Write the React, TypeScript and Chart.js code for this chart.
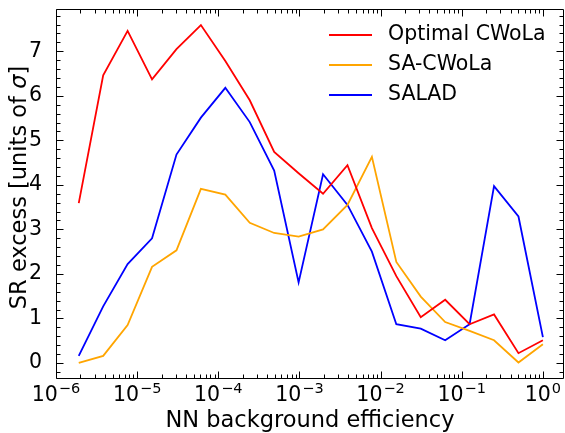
import React, { useEffect, useRef } from 'react';
import { Chart, registerables } from 'chart.js';

Chart.register(...registerables);

// NN background efficiency (x values)
const efficiencies = [
  1.9073e-6, 3.8147e-6, 7.6294e-6, 1.5259e-5, 3.0518e-5, 6.1035e-5, 1.2207e-4,
  2.4414e-4, 4.8828e-4, 9.7656e-4, 1.9531e-3, 3.9063e-3, 7.8125e-3, 1.5625e-2,
  3.125e-2, 6.25e-2, 0.125, 0.25, 0.5, 1,
];
const optimalCwola = [
  3.59, 6.46, 7.46, 6.37, 7.05, 7.59, 6.78, 5.9, 4.74, 4.26,
  3.8, 4.44, 3.03, 1.95, 1.03, 1.42, 0.87, 1.09, 0.22, 0.51,
];
const saCwola = [
  0.0, 0.16, 0.85, 2.16, 2.53, 3.91, 3.78, 3.15, 2.92, 2.84,
  3.0, 3.55, 4.63, 2.27, 1.49, 0.92, 0.72, 0.51, 0.01, 0.42,
];
const salad = [
  0.16, 1.27, 2.22, 2.8, 4.68, 5.51, 6.18, 5.41, 4.32, 1.81,
  4.24, 3.55, 2.5, 0.87, 0.77, 0.51, 0.87, 3.97, 3.29, 0.58,
];
const seriesLabels = ['Optimal CWoLa', 'SA-CWoLa', 'SALAD'];
const seriesColors = ['#ff0000', '#ffa500', '#0000ff'];
const xMajorTicks = [1e-6, 1e-5, 1e-4, 1e-3, 1e-2, 1e-1, 1];
const xTickBase = '10';
const xTickExponents = ['−6', '−5', '−4', '−3', '−2', '−1', '0'];
const yMajorTicks = [0, 1, 2, 3, 4, 5, 6, 7];
const xAxisTitle = 'NN background efficiency';
const yAxisTitleParts = ['SR excess [units of ', 'σ', ']'];

const FONT = 'DejaVu Sans';

const framePlugin = {
  id: 'frame',
  afterDraw(chart: any) {
    const { ctx, chartArea, scales } = chart;
    const { left, right, top, bottom } = chartArea;
    const xs = scales.x;
    const ys = scales.y;
    ctx.save();
    ctx.strokeStyle = '#000';
    ctx.lineWidth = 1;
    const L = Math.round(left) + 0.5;
    const R = Math.round(right) - 0.5;
    const T = Math.round(top) + 0.5;
    const B = Math.round(bottom) - 0.5;
    ctx.beginPath();
    ctx.rect(L, T, R - L, B - T);
    ctx.stroke();

    const majorLen = 7;
    const minorLen = 4;
    ctx.beginPath();
    const xMin = xs.min;
    const xMax = xs.max;
    for (let e = -7; e <= 1; e++) {
      for (let m = 1; m <= 9; m++) {
        const v = m * Math.pow(10, e);
        if (v < xMin * 0.9999 || v > xMax) continue;
        const px = Math.round(xs.getPixelForValue(v)) + 0.5;
        const len = m === 1 ? majorLen : minorLen;
        ctx.moveTo(px, B);
        ctx.lineTo(px, B - len);
        ctx.moveTo(px, T);
        ctx.lineTo(px, T + len);
      }
    }
    for (let i = -5; i <= 45; i++) {
      const v = i * 0.2;
      if (v < ys.min || v > ys.max) continue;
      const py = Math.round(ys.getPixelForValue(v)) + 0.5;
      const len = i % 5 === 0 ? majorLen : minorLen;
      ctx.moveTo(L, py);
      ctx.lineTo(L + len, py);
      ctx.moveTo(R, py);
      ctx.lineTo(R - len, py);
    }
    ctx.stroke();

    // x tick labels: 10 with superscript exponent
    ctx.fillStyle = '#000';
    ctx.textBaseline = 'alphabetic';
    ctx.textAlign = 'left';
    const mainFont = `20.5px "${FONT}"`;
    const expFont = `14.5px "${FONT}"`;
    xMajorTicks.forEach((v, i) => {
      const px = xs.getPixelForValue(v);
      ctx.font = mainFont;
      const wMain = ctx.measureText(xTickBase).width;
      ctx.font = expFont;
      const wExp = ctx.measureText(xTickExponents[i]).width;
      const x0 = px - (wMain + wExp + 1) / 2;
      const baseY = bottom + 22;
      ctx.font = mainFont;
      ctx.fillText(xTickBase, x0, baseY);
      ctx.font = expFont;
      ctx.fillText(xTickExponents[i], x0 + wMain + 1, baseY - 8);
    });

    // y axis title with italic sigma
    ctx.save();
    ctx.translate(20.5, 187.5);
    ctx.rotate(-Math.PI / 2);
    ctx.textBaseline = 'middle';
    const titleSize = 22.5;
    const fonts = [
      `${titleSize}px "${FONT}"`,
      `italic ${titleSize}px "${FONT}"`,
      `${titleSize}px "${FONT}"`,
    ];
    const widths = yAxisTitleParts.map((p, i) => {
      ctx.font = fonts[i];
      return ctx.measureText(p).width;
    });
    const total = widths.reduce((a, b) => a + b, 0);
    let cx = -total / 2;
    yAxisTitleParts.forEach((p, i) => {
      ctx.font = fonts[i];
      ctx.fillText(p, cx, 0);
      cx += widths[i];
    });
    ctx.restore();

    // legend
    const ds = chart.data.datasets;
    ctx.font = `20.5px "${FONT}"`;
    ctx.textBaseline = 'middle';
    ctx.textAlign = 'left';
    for (let i = 0; i < ds.length; i++) {
      const y = top + 26 + i * 30;
      ctx.strokeStyle = ds[i].borderColor;
      ctx.lineWidth = 1.8;
      ctx.beginPath();
      ctx.moveTo(left + 273, y);
      ctx.lineTo(left + 316, y);
      ctx.stroke();
      ctx.fillStyle = '#000';
      ctx.fillText(ds[i].label, left + 332, y);
    }
    ctx.restore();
  },
};

export default function App() {
  const ref = useRef<HTMLCanvasElement>(null);
  useEffect(() => {
    document.body.style.margin = '0';
    const canvas = ref.current;
    if (!canvas) return;
    Chart.defaults.font.family = FONT;
    const seriesValues = [optimalCwola, saCwola, salad];
    const chart = new Chart(canvas, {
      type: 'line',
      data: {
        datasets: seriesValues.map((vals, i) => ({
          label: seriesLabels[i],
          data: vals.map((v, j) => ({ x: efficiencies[j], y: v })),
          borderColor: seriesColors[i],
          backgroundColor: seriesColors[i],
          borderWidth: 1.8,
          pointRadius: 0,
          tension: 0,
          fill: false,
        })),
      },
      options: {
        responsive: false,
        animation: false,
        devicePixelRatio: 1,
        layout: { padding: { top: 9, right: 1, left: 0, bottom: 0 } },
        plugins: {
          legend: { display: false },
          tooltip: { enabled: false },
        },
        scales: {
          x: {
            type: 'logarithmic',
            min: 1e-6,
            max: 1.82,
            grid: { display: false },
            border: { display: false },
            afterBuildTicks: (scale: any) => {
              scale.ticks = xMajorTicks.map((v) => ({ value: v, major: true }));
            },
            afterFit: (scale: any) => {
              scale.height = 54;
              scale.paddingLeft = 0;
              scale.paddingRight = 0;
            },
            ticks: { display: false },
            title: {
              display: true,
              text: xAxisTitle,
              color: '#000',
              font: { size: 22.5, family: FONT },
              padding: { top: 0, bottom: -2 },
            },
          },
          y: {
            type: 'linear',
            min: -0.36,
            max: 7.95,
            grid: { display: false },
            border: { display: false },
            afterBuildTicks: (scale: any) => {
              scale.ticks = yMajorTicks.map((v) => ({ value: v }));
            },
            afterFit: (scale: any) => {
              scale.width = 56;
              scale.paddingTop = 0;
              scale.paddingBottom = 0;
            },
            ticks: {
              padding: 6,
              color: '#000',
              font: { size: 20.5, family: FONT },
              callback: (v: any) => String(v),
            },
            title: { display: false },
          },
        },
      },
      plugins: [framePlugin],
    });
    return () => chart.destroy();
  }, []);
  return (
    <div style={{ position: 'absolute', left: 0, top: 0 }}>
      <canvas ref={ref} width={565} height={433} style={{ display: 'block', width: 565, height: 433 }} />
    </div>
  );
}
